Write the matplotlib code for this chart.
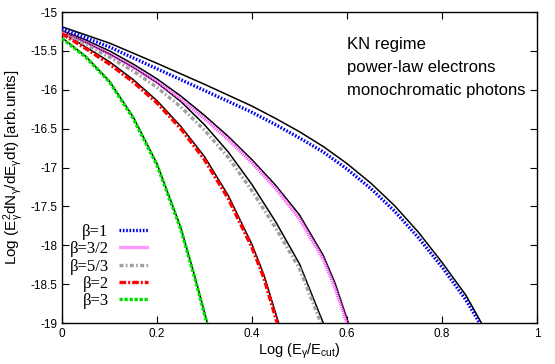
import numpy as np
import matplotlib.pyplot as plt

plt.rcParams['font.family'] = ['Liberation Sans', 'DejaVu Sans']
plt.rcParams['mathtext.default'] = 'regular'
plt.rcParams['axes.unicode_minus'] = False

# colored (numerical) curves
x_b1 = [0, 0.1, 0.2, 0.3, 0.4, 0.45, 0.5, 0.55, 0.6, 0.65, 0.7, 0.75, 0.8, 0.85, 0.879]
y_b1 = [-15.21, -15.45, -15.73, -16.01, -16.29, -16.45, -16.62, -16.80, -17.02, -17.27,
        -17.56, -17.90, -18.28, -18.70, -19.0]

x_b32 = [0, 0.05, 0.1, 0.15, 0.2, 0.25, 0.3, 0.35, 0.4, 0.45, 0.5, 0.55, 0.575, 0.6]
y_b32 = [-15.26, -15.39, -15.54, -15.71, -15.90, -16.12, -16.37, -16.64, -16.94, -17.27,
         -17.66, -18.18, -18.55, -19.0]

x_b53 = [0, 0.05, 0.1, 0.15, 0.2, 0.25, 0.3, 0.35, 0.4, 0.45, 0.5, 0.545]
y_b53 = [-15.27, -15.42, -15.58, -15.76, -15.97, -16.22, -16.52, -16.87, -17.30, -17.78,
         -18.30, -19.0]

x_b2 = [0, 0.05, 0.1, 0.15, 0.2, 0.25, 0.3, 0.35, 0.4, 0.425, 0.453]
y_b2 = [-15.28, -15.47, -15.67, -15.90, -16.17, -16.50, -16.90, -17.40, -18.03, -18.42, -19.0]

x_b3 = [0, 0.05, 0.1, 0.15, 0.2, 0.25, 0.28, 0.305]
y_b3 = [-15.34, -15.58, -15.90, -16.37, -16.97, -17.79, -18.43, -19.0]

# black (analytic) curves
xk_b1 = [0, 0.1, 0.2, 0.3, 0.4, 0.45, 0.5, 0.55, 0.6, 0.65, 0.7, 0.75, 0.8, 0.85, 0.883]
yk_b1 = [-15.19, -15.40, -15.66, -15.93, -16.21, -16.37, -16.54, -16.73, -16.95, -17.20,
         -17.49, -17.83, -18.22, -18.64, -19.0]

xk_b32 = [0, 0.05, 0.1, 0.15, 0.2, 0.25, 0.3, 0.35, 0.4, 0.45, 0.5, 0.55, 0.575, 0.603]
yk_b32 = [-15.24, -15.36, -15.50, -15.67, -15.86, -16.08, -16.33, -16.60, -16.90, -17.23,
          -17.61, -18.13, -18.49, -19.0]

xk_b53 = [0, 0.05, 0.1, 0.15, 0.2, 0.25, 0.3, 0.35, 0.4, 0.45, 0.5, 0.55]
yk_b53 = [-15.25, -15.39, -15.54, -15.71, -15.91, -16.15, -16.45, -16.80, -17.22, -17.70,
          -18.24, -19.0]

xk_b2 = [0, 0.05, 0.1, 0.15, 0.2, 0.25, 0.3, 0.35, 0.4, 0.425, 0.456]
yk_b2 = [-15.26, -15.45, -15.64, -15.87, -16.14, -16.47, -16.86, -17.36, -17.99, -18.38, -19.0]

xk_b3 = [0, 0.05, 0.1, 0.15, 0.2, 0.25, 0.28, 0.306]
yk_b3 = [-15.33, -15.57, -15.89, -16.35, -16.95, -17.77, -18.41, -19.0]

labels = ['β=1', 'β=3/2', 'β=5/3', 'β=2', 'β=3']
colors = ['#0000ee', '#ff33ff', '#a0a0a0', '#ff0000', '#00e000']
styles = [(0, (0.5, 0.5)), (0, (0.3, 0.3)), (0, (1.2, 0.7, 0.5, 0.7)),
          (0, (2.0, 0.6, 0.6, 0.6)), (0, (1.0, 0.5))]

fig = plt.figure(figsize=(5.55, 3.64), dpi=100)
ax = fig.add_axes([0.1117, 0.1126, 0.8559, 0.8544])

# black lines first so the colored ones sit on top
for xk, yk in [(xk_b1, yk_b1), (xk_b32, yk_b32), (xk_b53, yk_b53), (xk_b2, yk_b2), (xk_b3, yk_b3)]:
    ax.plot(xk, yk, color='black', lw=1.1, zorder=2)

series = [(x_b1, y_b1), (x_b32, y_b32), (x_b53, y_b53), (x_b2, y_b2), (x_b3, y_b3)]
for (xs, ys), c, ls in zip(series, colors, styles):
    ax.plot(xs, ys, color=c, lw=2.4, ls=ls, zorder=3)

# gnuplot style key: right-aligned labels, sample line to the right
key_y = [0.299, 0.244, 0.188, 0.133, 0.078]
for lab, c, ls, ky in zip(labels, colors, styles, key_y):
    ax.plot([0.119, 0.182], [ky, ky], transform=ax.transAxes, color=c, lw=2.4, ls=ls)
    ax.text(0.098, ky, lab, transform=ax.transAxes, ha='right', va='center_baseline',
            family='Liberation Serif', fontsize=12)

ax.set_xlim(0, 1)
ax.set_ylim(-19, -15)
ax.set_xticks(np.arange(0, 1.01, 0.2))
ax.set_xticklabels(['0', '0.2', '0.4', '0.6', '0.8', '1'])
ax.set_yticks(np.arange(-19, -14.9, 0.5))
ax.set_yticklabels(['-19', '-18.5', '-18', '-17.5', '-17', '-16.5', '-16', '-15.5', '-15'])
ax.tick_params(direction='in', top=True, right=True, labelsize=8.5, length=5, width=0.8)
for s in ax.spines.values():
    s.set_linewidth(1)

ax.set_xlabel('Log (E$_\\gamma$/E$_{cut}$)', fontsize=10.5, labelpad=1)
ax.set_ylabel('Log (E$^2_\\gamma$dN$_\\gamma$/dE$_\\gamma$dt) [arb.units]', fontsize=11, labelpad=3)

ax.text(0.6, 0.882, 'KN regime', transform=ax.transAxes, fontsize=12, va='baseline')
ax.text(0.6, 0.807, 'power-law electrons', transform=ax.transAxes, fontsize=12, va='baseline')
ax.text(0.6, 0.732, 'monochromatic photons', transform=ax.transAxes, fontsize=12, va='baseline')

fig.savefig('out.png', dpi=100)
